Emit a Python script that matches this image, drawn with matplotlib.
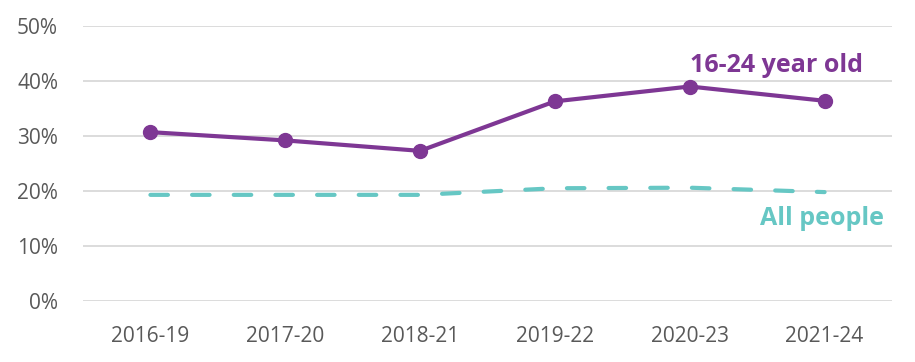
import numpy as np
import matplotlib.pyplot as plt

# =============================
# Data
# =============================
periods = ["2016-19", "2017-20", "2018-21", "2019-22", "2020-23", "2021-24"]
young = [30.7, 29.2, 27.3, 36.3, 39.0, 36.4]
all_people = [19.3, 19.3, 19.3, 20.5, 20.6, 19.8]

purple = "#7E3794"
teal = "#66C7C4"
grey = "#595959"

plt.rcParams['font.family'] = ['Open Sans', 'DejaVu Sans']

fig = plt.figure(figsize=(9.15, 3.62), dpi=100)
ax = fig.add_axes([83 / 915, 1 - 301 / 362, (892 - 83) / 915, (301 - 26) / 362])

x = np.arange(len(periods))

# gridlines
for v in range(0, 51, 10):
    ax.axhline(v, color="#d9d9d9", lw=1.3, zorder=0)

ax.plot(x, all_people, color=teal, lw=3, dashes=(4.2, 5.8),
        dash_capstyle='round', solid_capstyle='round', zorder=2)
ax.plot(x, young, color=purple, lw=3, marker='o', markersize=10,
        solid_capstyle='round', zorder=3)

ax.text(4.64, 41.6, "16-24 year old", color=purple, fontsize=18,
        fontweight='bold', ha='center', va='baseline')
ax.text(5.44, 13.9, "All people", color=teal, fontsize=18,
        fontweight='bold', ha='right', va='baseline')

ax.set_xlim(-0.5, 5.5)
ax.set_ylim(0, 50)
ax.set_xticks(x)
ax.set_xticklabels(periods)
ax.set_yticks(range(0, 51, 10))
ax.set_yticklabels([f"{v}%" for v in range(0, 51, 10)])
ax.tick_params(length=0, labelsize=15, colors=grey)
ax.tick_params(axis='x', pad=18)
ax.tick_params(axis='y', pad=18)
for s in ax.spines.values():
    s.set_visible(False)

fig.savefig("out.png", dpi=100)
